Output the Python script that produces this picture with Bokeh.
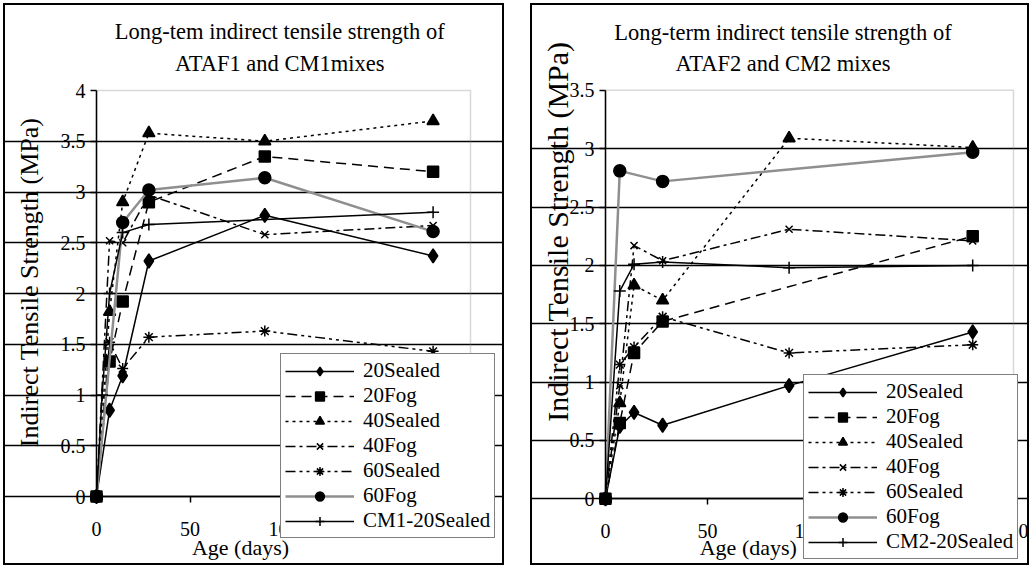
import math
from bokeh.plotting import figure
from bokeh.models import (Label, Legend, LegendItem, FixedTicker, Spacer,
                          BoxAnnotation, Range1d)
from bokeh.layouts import row, column
from bokeh.embed import file_html
from bokeh.resources import INLINE

# ---------------- data ----------------
# Left chart: ATAF1 and CM1 mixes
ages1 = [0, 7, 14, 28, 90, 180]
a1_20sealed = [0, 0.85, 1.19, 2.32, 2.77, 2.37]
a1_20fog = [0, 1.33, 1.92, 2.90, 3.35, 3.20]
a1_40sealed = [0, 1.82, 2.90, 3.58, 3.50, 3.70]
a1_40fog = [0, 2.52, 2.50, 2.97, 2.58, 2.67]
a1_60sealed = [0, 1.52, 1.26, 1.57, 1.63, 1.43]
ages1_60fog = [0, 14, 28, 90, 180]
a1_60fog = [0, 2.70, 3.02, 3.14, 2.61]
ages_cm1 = [0, 3, 7, 14, 28, 180]
cm1_20sealed = [0, 1.00, 2.00, 2.60, 2.68, 2.80]

# Right chart: ATAF2 and CM2 mixes
ages2 = [0, 7, 14, 28, 90, 180]
a2_20sealed = [0, 0.62, 0.74, 0.63, 0.97, 1.43]
ages2_20fog = [0, 7, 14, 28, 180]
a2_20fog = [0, 0.65, 1.25, 1.52, 2.25]
a2_40sealed = [0, 0.82, 1.83, 1.70, 3.09, 3.01]
a2_40fog = [0, 0.97, 2.17, 2.04, 2.31, 2.21]
a2_60sealed = [0, 1.15, 1.30, 1.56, 1.25, 1.32]
ages2_60fog = [0, 7, 28, 180]
a2_60fog = [0, 2.81, 2.72, 2.97]
cm2_20sealed = [0, 1.78, 2.01, 2.03, 1.98, 2.00]

x_ticks = [0, 50, 100, 150, 200]

left_series = [
    ("20Sealed", ages1, a1_20sealed),
    ("20Fog", ages1, a1_20fog),
    ("40Sealed", ages1, a1_40sealed),
    ("40Fog", ages1, a1_40fog),
    ("60Sealed", ages1, a1_60sealed),
    ("60Fog", ages1_60fog, a1_60fog),
    ("CM1-20Sealed", ages_cm1, cm1_20sealed),
]
right_series = [
    ("20Sealed", ages2, a2_20sealed),
    ("20Fog", ages2_20fog, a2_20fog),
    ("40Sealed", ages2, a2_40sealed),
    ("40Fog", ages2, a2_40fog),
    ("60Sealed", ages2, a2_60sealed),
    ("60Fog", ages2_60fog, a2_60fog),
    ("CM2-20Sealed", ages2, cm2_20sealed),
]

# ---------------- styles ----------------
SERIF = "'Liberation Serif'"
STYLES = {
    "20Sealed": dict(color="black", dash="solid", marker="diamond", size=14, width=1.5),
    "20Fog": dict(color="black", dash="10 6", marker="square", size=11, width=1.5),
    "40Sealed": dict(color="black", dash="3 4", marker="triangle", size=12, width=1.5),
    "40Fog": dict(color="black", dash="10 4 3 4", marker="x", size=10, width=1.5),
    "60Sealed": dict(color="black", dash="10 4 3 4 3 4", marker="asterisk", size=11, width=1.5),
    "60Fog": dict(color="#8f8f8f", dash="solid", marker="circle", size=12, width=2.5),
    "CM1-20Sealed": dict(color="black", dash="solid", marker="cross", size=12, width=1.5),
    "CM2-20Sealed": dict(color="black", dash="solid", marker="cross", size=12, width=1.5),
}


def make_panel(series, width, height, x0_px, y0_px, px_per_x, px_per_y, y_max,
               title_lines, title_pos, ylab_pos, ylab_size, xlab_pos, legend_loc):
    # the frame covers the whole panel; axes sit at data 0 via fixed_location
    x_start = -x0_px / px_per_x
    x_end = (width - x0_px) / px_per_x
    y_start = -(height - y0_px) / px_per_y
    y_end = y0_px / px_per_y
    p = figure(width=width, height=height,
               x_range=Range1d(x_start, x_end), y_range=Range1d(y_start, y_end),
               output_backend="svg", toolbar_location=None, title=None,
               min_border=0, min_border_left=0, min_border_right=0,
               min_border_top=0, min_border_bottom=0,
               background_fill_color="white", border_fill_color="white")
    p.outline_line_color = "black"
    p.outline_line_width = 3

    # plot-area box (gray top/right edges)
    p.add_layout(BoxAnnotation(left=0, right=200, bottom=0, top=y_max,
                               fill_alpha=0, line_color="#808080", line_width=1.5,
                               level="underlay"))

    # grid
    p.xgrid.visible = False
    yticks = [i * 0.5 for i in range(int(round(y_max / 0.5)) + 1)]
    p.ygrid.ticker = FixedTicker(ticks=yticks[:-1])
    p.ygrid.bounds = (0, 200)
    p.ygrid.grid_line_color = "black"
    p.ygrid.grid_line_width = 1.5

    # axes
    p.yaxis.ticker = FixedTicker(ticks=yticks)
    p.yaxis.major_label_overrides = {t: ("%g" % t) for t in yticks}
    p.yaxis.fixed_location = 0
    p.yaxis.bounds = (0, y_max)
    p.xaxis.ticker = FixedTicker(ticks=x_ticks)
    p.xaxis.fixed_location = 0
    p.xaxis.bounds = (0, 200)
    for ax in (p.xaxis, p.yaxis):
        ax.axis_line_color = "black"
        ax.axis_line_width = 1.5
        ax.major_tick_line_color = "black"
        ax.major_tick_line_width = 1.5
        ax.major_tick_in = 0
        ax.major_tick_out = 6
        ax.minor_tick_line_color = None
        ax.major_label_text_font = SERIF
        ax.major_label_text_font_size = "20px"
        ax.major_label_text_color = "black"
    p.yaxis.major_label_standoff = 5
    p.xaxis.major_label_standoff = 19

    # data
    items = []
    for name, xs, ys in series:
        st = STYLES[name]
        r_line = p.line(xs, ys, line_color=st["color"], line_width=st["width"],
                        line_dash=st["dash"])
        r_pts = p.scatter(xs, ys, marker=st["marker"], size=st["size"],
                          fill_color="black", line_color="black", line_width=1.5)
        items.append(LegendItem(label=name, renderers=[r_line, r_pts]))

    # texts placed with the chart's own scales
    tx, ty1, ty2 = title_pos
    for txt, ty in ((title_lines[0], ty1), (title_lines[1], ty2)):
        p.add_layout(Label(x=tx, y=ty, text=txt, text_font=SERIF,
                           text_font_size="22.5px", text_align="center",
                           text_baseline="middle", text_color="black"))
    p.add_layout(Label(x=ylab_pos[0], y=ylab_pos[1],
                       text="Indirect Tensile Strength (MPa)", angle=math.pi / 2,
                       text_font=SERIF, text_font_size=ylab_size, text_align="center",
                       text_baseline="middle", text_color="black"))
    p.add_layout(Label(x=xlab_pos[0], y=xlab_pos[1], text="Age (days)",
                       text_font=SERIF, text_font_size="22px", text_align="center",
                       text_baseline="middle", text_color="black"))

    legend = Legend(items=items, location=legend_loc, orientation="vertical",
                    label_text_font=SERIF, label_text_font_size="21px",
                    label_text_color="black", glyph_width=69, glyph_height=22,
                    label_height=22, label_standoff=9, spacing=0, padding=4,
                    margin=0, border_line_color="black", border_line_width=1.5,
                    background_fill_color="white", background_fill_alpha=1.0)
    p.add_layout(legend, "center")
    return p


# panel canvas origins: left at (3, 3), right at (530, 3)
p1 = make_panel(left_series, 501, 562, 93, 493, 1.87, 101.5, 4.0,
                ("Long-tem indirect tensile strength of", "ATAF1 and CM1mixes"),
                (98, 4.58, 4.27), (-36.0, 2.11), "26px", (77, -0.50), (277, 27))
p2 = make_panel(right_series, 499, 562, 75, 495.3, 2.04, 116.7, 3.5,
                ("Long-term indirect tensile strength of", "ATAF2 and CM2 mixes"),
                (87, 4.00, 3.73), (-23.5, 2.29), "30px", (70, -0.42), (273, 6))

layout = column(Spacer(height=3),
                row(Spacer(width=3), p1, Spacer(width=26), p2, spacing=0),
                spacing=0)

with open("out.html", "w") as f:
    f.write(file_html(layout, INLINE))
